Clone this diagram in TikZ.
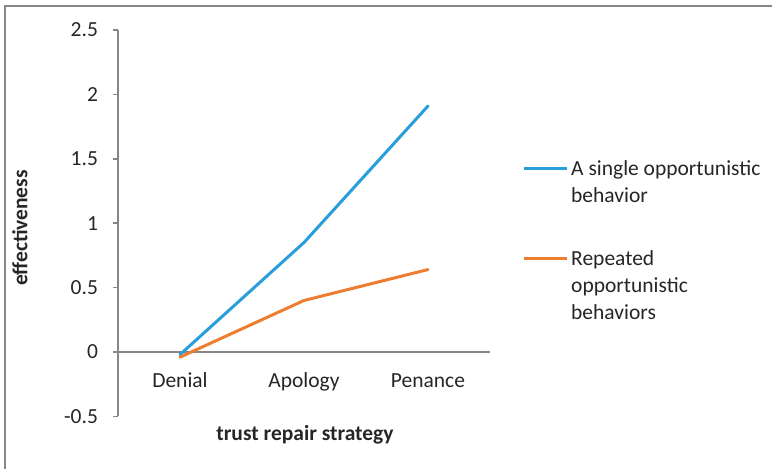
\documentclass[tikz,border=0pt]{standalone}
\usepackage{fontspec}
\setmainfont{Carlito}
\definecolor{axisgray}{RGB}{134,134,134}
\definecolor{textgray}{RGB}{38,38,38}
\definecolor{singleblue}{RGB}{41,158,218}
\definecolor{repeatorange}{RGB}{237,125,49}
\tikzset{
  axisline/.style={axisgray, line width=1.5pt},
  dataline/.style={line width=3pt, line cap=round, line join=round},
  ticklabel/.style={anchor=east, inner sep=0pt, text=textgray},
  catlabel/.style={anchor=base, inner sep=0pt},
  legendtext/.style={anchor=west, align=left, inner sep=0pt}
}
\begin{document}
\begin{tikzpicture}[x=1pt, y=-1pt, font=\fontsize{21.5}{27}\selectfont, text=textgray]
    \useasboundingbox (0,0) rectangle (772,469);
    \draw[axisgray, line width=1.2pt] (5,469) -- (5,6) -- (772,6);
    % plot area: one unit per category, one unit per value
    \begin{scope}[shift={(118,352)}, x=124pt, y=128.8pt]
        \draw[axisline] (0,2.5) -- (0,-0.5);
        \foreach \v in {2.5,2,1.5,1,0.5,0,-0.5} {
            \draw[axisline] (-0.04,\v) -- (0,\v);
            \node (tick\v) [ticklabel] at (-0.16,\v) {\v};
        }
        \draw[axisline] (0,0) -- (3,0);
        \node (denial) [catlabel] at (0.5,-0.272) {Denial};
        \node (apology) [catlabel] at (1.5,-0.272) {Apology};
        \node (penance) [catlabel] at (2.5,-0.272) {Penance};
        \draw[dataline, singleblue] (0.5,-0.02) -- (1.5,0.85) -- (2.5,1.91);
        \draw[dataline, repeatorange] (0.5,-0.04) -- (1.5,0.40) -- (2.5,0.64);
    \end{scope}
    \node (ytitle) [rotate=90, font=\bfseries\fontsize{21.5}{27}\selectfont] at (20,228) {effectiveness};
    \node (xtitle) [font=\bfseries\fontsize{21.5}{27}\selectfont] at (305,435) {trust repair strategy};
    % legend
    \draw[dataline, singleblue, line cap=butt] (524,168) -- (567,168);
    \node (single) [legendtext] at (571,181.5) {A single opportunistic\\behavior};
    \draw[dataline, repeatorange, line cap=butt] (524,258) -- (567,258);
    \node (repeated) [legendtext] at (571,285) {Repeated\\opportunistic\\behaviors};
\end{tikzpicture}
\end{document}
